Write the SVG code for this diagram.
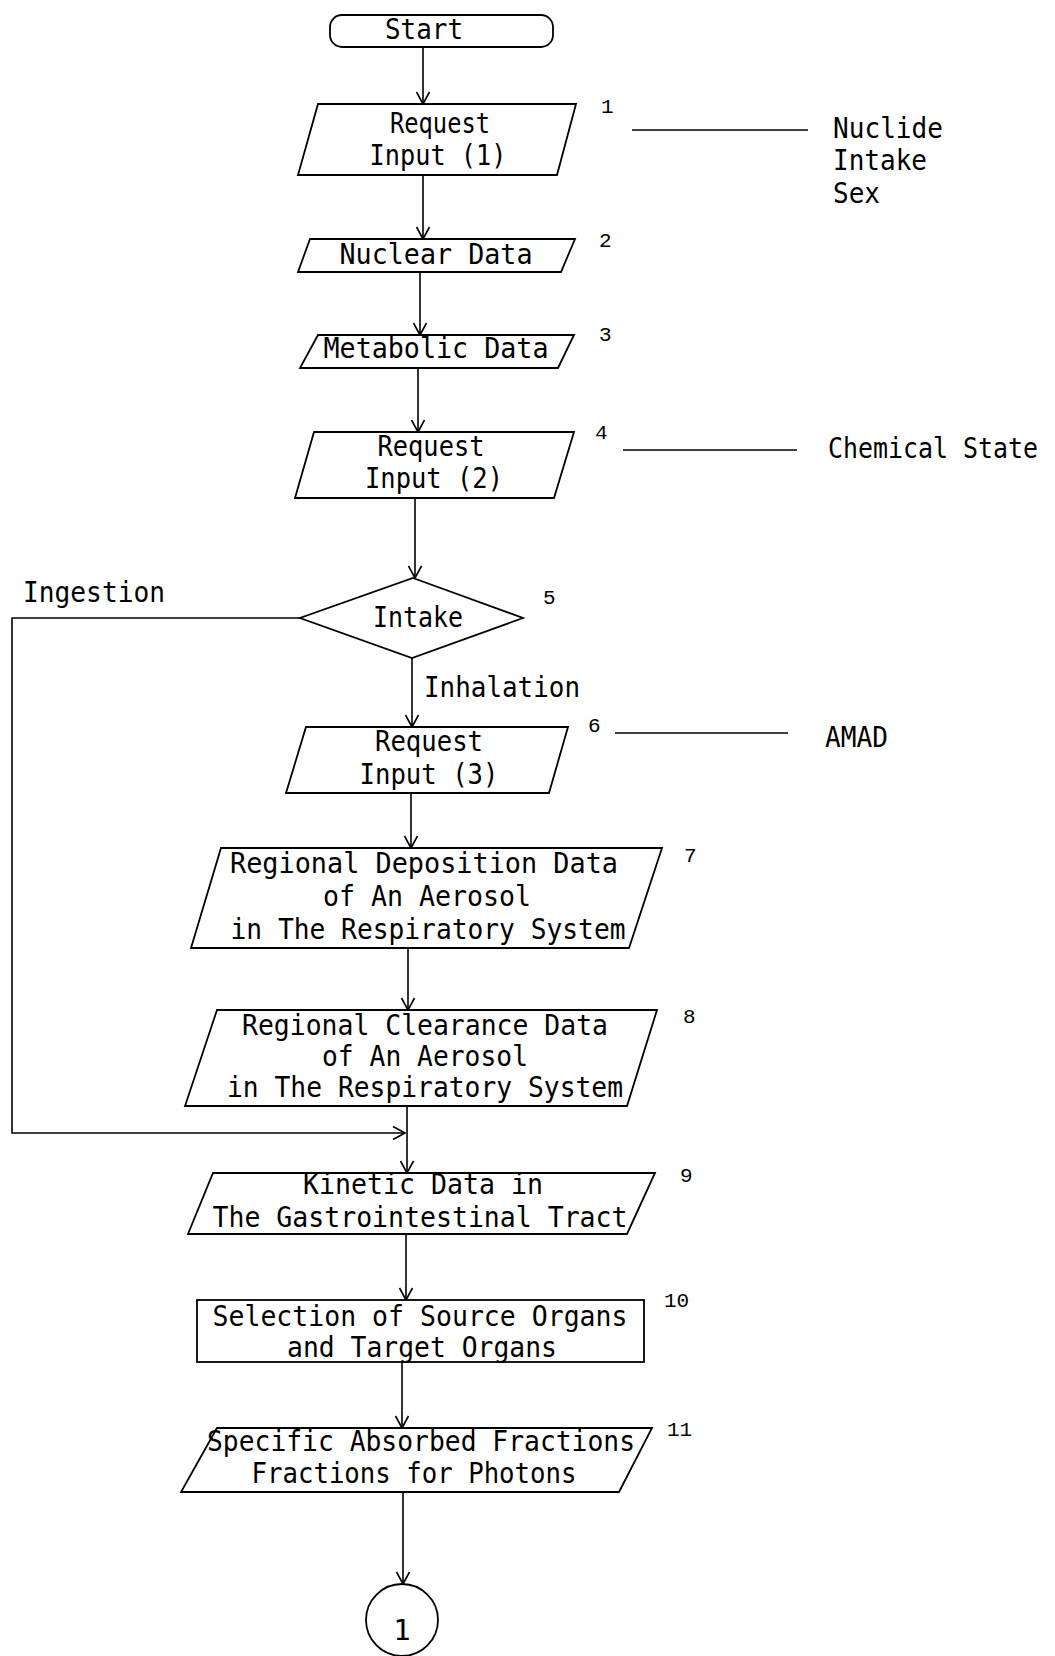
<svg xmlns="http://www.w3.org/2000/svg" width="1055" height="1656" viewBox="0 0 1055 1656">
<style>
.shape{fill:#fff;stroke:#000;stroke-width:1.8;stroke-linejoin:miter}
.t{font-family:"DejaVu Sans Mono","Liberation Mono",monospace;font-size:29px;fill:#000;text-anchor:middle}
.ts{font-family:"DejaVu Sans Mono","Liberation Mono",monospace;font-size:29px;fill:#000;text-anchor:start}
.n{font-family:"Liberation Mono","DejaVu Sans Mono",monospace;font-size:21px;fill:#000}
.c{fill:none;stroke:#000;stroke-width:1.6}
</style>
<defs>
<marker id="arr" markerUnits="userSpaceOnUse" markerWidth="16" markerHeight="16" viewBox="-14 -8 16 16" refX="0" refY="0" orient="auto">
<path d="M-12,-6.5 L0,0 L-12,6.5" fill="none" stroke="#000" stroke-width="1.6"/>
</marker>
</defs>
<rect width="1055" height="1656" fill="#fff"/>

<g id="connectors">
<path class="c" d="M423,47 V104" marker-end="url(#arr)"/>
<path class="c" d="M423,175 V239" marker-end="url(#arr)"/>
<path class="c" d="M420,272 V335" marker-end="url(#arr)"/>
<path class="c" d="M418,367 V432" marker-end="url(#arr)"/>
<path class="c" d="M415,498 V578" marker-end="url(#arr)"/>
<path class="c" d="M412,658 V727" marker-end="url(#arr)"/>
<path class="c" d="M411,793 V848" marker-end="url(#arr)"/>
<path class="c" d="M408,948 V1010" marker-end="url(#arr)"/>
<path class="c" d="M407,1106 V1173" marker-end="url(#arr)"/>
<path class="c" d="M300,618 H12 V1133 H405" marker-end="url(#arr)"/>
<path class="c" d="M406,1234 V1300" marker-end="url(#arr)"/>
<path class="c" d="M402,1362 V1428" marker-end="url(#arr)"/>
<path class="c" d="M403,1492 V1584" marker-end="url(#arr)"/>
<line class="c" x1="632" y1="130" x2="808" y2="130"/>
<line class="c" x1="623" y1="450" x2="797" y2="450"/>
<line class="c" x1="615" y1="733" x2="788" y2="733"/>
</g>

<g id="start">
<rect class="shape" x="330" y="15" width="223" height="32" rx="12"/>
<text class="t" x="424" y="39" textLength="78" lengthAdjust="spacingAndGlyphs">Start</text>
</g>

<g id="n1">
<polygon class="shape" points="318,104 576,104 557,175 298,175"/>
<text class="t" x="440" y="133" textLength="100" lengthAdjust="spacingAndGlyphs">Request</text>
<text class="t" x="438" y="165" textLength="137" lengthAdjust="spacingAndGlyphs">Input (1)</text>
<text class="n" x="601" y="113">1</text>
</g>

<g id="n2">
<polygon class="shape" points="310,239 575,239 561,272 298,272"/>
<text class="t" x="436" y="264" textLength="193" lengthAdjust="spacingAndGlyphs">Nuclear Data</text>
<text class="n" x="599" y="247">2</text>
</g>

<g id="n3">
<polygon class="shape" points="318,335 574,335 558,368 300,368"/>
<text class="t" x="436" y="358" textLength="225" lengthAdjust="spacingAndGlyphs">Metabolic Data</text>
<text class="n" x="599" y="341">3</text>
</g>

<g id="n4">
<polygon class="shape" points="314,432 574,432 554,498 295,498"/>
<text class="t" x="431" y="456" textLength="107" lengthAdjust="spacingAndGlyphs">Request</text>
<text class="t" x="434" y="488" textLength="138" lengthAdjust="spacingAndGlyphs">Input (2)</text>
<text class="n" x="595" y="439">4</text>
</g>

<g id="n5">
<polygon class="shape" points="413,578 523,618 412,658 300,618"/>
<text class="t" x="418" y="627" textLength="90" lengthAdjust="spacingAndGlyphs">Intake</text>
<text class="n" x="543" y="604">5</text>
</g>

<g id="n6">
<polygon class="shape" points="306,727 568,727 549,793 286,793"/>
<text class="t" x="429" y="751" textLength="108" lengthAdjust="spacingAndGlyphs">Request</text>
<text class="t" x="429" y="784" textLength="139" lengthAdjust="spacingAndGlyphs">Input (3)</text>
<text class="n" x="588" y="732">6</text>
</g>

<g id="n7">
<polygon class="shape" points="221,848 662,848 629,948 191,948"/>
<text class="t" x="424" y="873" textLength="388" lengthAdjust="spacingAndGlyphs">Regional Deposition Data</text>
<text class="t" x="427" y="906" textLength="208" lengthAdjust="spacingAndGlyphs">of An Aerosol</text>
<text class="t" x="428" y="939" textLength="395" lengthAdjust="spacingAndGlyphs">in The Respiratory System</text>
<text class="n" x="684" y="862">7</text>
</g>

<g id="n8">
<polygon class="shape" points="217,1010 657,1010 627,1106 185,1106"/>
<text class="t" x="425" y="1035" textLength="366" lengthAdjust="spacingAndGlyphs">Regional Clearance Data</text>
<text class="t" x="425" y="1066" textLength="206" lengthAdjust="spacingAndGlyphs">of An Aerosol</text>
<text class="t" x="425" y="1097" textLength="396" lengthAdjust="spacingAndGlyphs">in The Respiratory System</text>
<text class="n" x="683" y="1023">8</text>
</g>

<g id="n9">
<polygon class="shape" points="213,1173 655,1173 627,1234 188,1234"/>
<text class="t" x="423" y="1194" textLength="240" lengthAdjust="spacingAndGlyphs">Kinetic Data in</text>
<text class="t" x="420" y="1227" textLength="415" lengthAdjust="spacingAndGlyphs">The Gastrointestinal Tract</text>
<text class="n" x="680" y="1182">9</text>
</g>

<g id="n10">
<rect class="shape" x="197" y="1300" width="447" height="62"/>
<text class="t" x="420" y="1326" textLength="415" lengthAdjust="spacingAndGlyphs">Selection of Source Organs</text>
<text class="t" x="422" y="1357" textLength="270" lengthAdjust="spacingAndGlyphs">and Target Organs</text>
<text class="n" x="664" y="1307">10</text>
</g>

<g id="n11">
<polygon class="shape" points="217,1428 652,1428 619,1492 181,1492"/>
<text class="t" x="421" y="1451" textLength="428" lengthAdjust="spacingAndGlyphs">Specific Absorbed Fractions</text>
<text class="t" x="414" y="1483" textLength="325" lengthAdjust="spacingAndGlyphs">Fractions for Photons</text>
<text class="n" x="667" y="1436">11</text>
</g>

<g id="end">
<circle class="shape" cx="402" cy="1620" r="36"/>
<text class="t" x="402" y="1640">1</text>
</g>

<g id="labels">
<text class="ts" x="23" y="602" textLength="142" lengthAdjust="spacingAndGlyphs">Ingestion</text>
<text class="ts" x="424" y="697" textLength="156" lengthAdjust="spacingAndGlyphs">Inhalation</text>
<text class="ts" x="833" y="138" textLength="110" lengthAdjust="spacingAndGlyphs">Nuclide</text>
<text class="ts" x="833" y="170" textLength="94" lengthAdjust="spacingAndGlyphs">Intake</text>
<text class="ts" x="833" y="203" textLength="47" lengthAdjust="spacingAndGlyphs">Sex</text>
<text class="ts" transform="translate(828,458) scale(0.86,1)" x="0" y="0">Chemical State</text>
<text class="ts" x="825" y="747" textLength="63" lengthAdjust="spacingAndGlyphs">AMAD</text>
</g>
</svg>
